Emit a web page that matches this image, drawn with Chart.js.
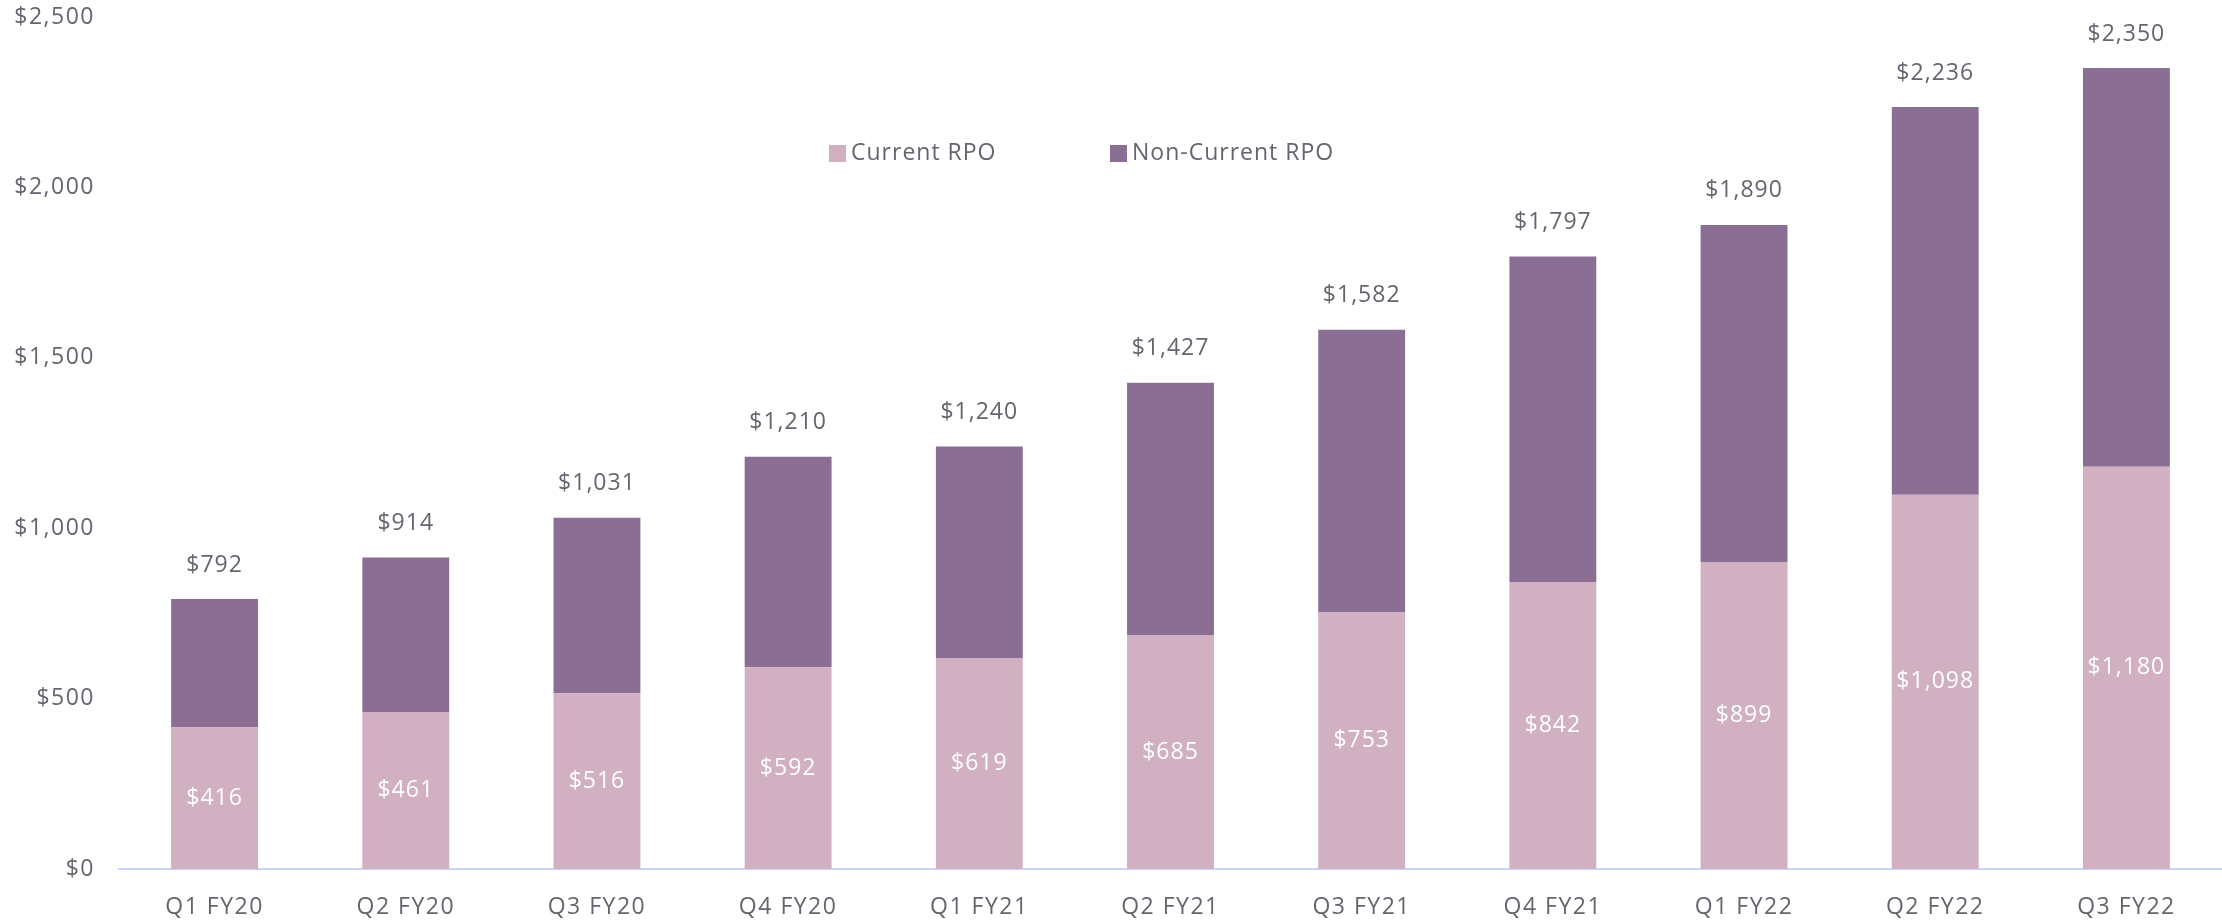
<!DOCTYPE html>
<html>
<head>
<meta charset="utf-8">
<script src="https://cdn.jsdelivr.net/npm/chart.js@4"></script>
<style>
  html, body { margin: 0; padding: 0; background: #ffffff; }
  #wrap { width: 2222px; height: 921px; position: relative; }
</style>
</head>
<body>
<div id="wrap"><canvas id="c"></canvas></div>
<script>
const categories = ['Q1 FY20','Q2 FY20','Q3 FY20','Q4 FY20','Q1 FY21','Q2 FY21','Q3 FY21','Q4 FY21','Q1 FY22','Q2 FY22','Q3 FY22'];
const currentRPO = [416, 461, 516, 592, 619, 685, 753, 842, 899, 1098, 1180];
const nonCurrentRPO = [376, 453, 515, 618, 621, 742, 829, 955, 991, 1138, 1170];
const totalRPO = [792, 914, 1031, 1210, 1240, 1427, 1582, 1797, 1890, 2236, 2350];
const yTicks = [0, 500, 1000, 1500, 2000, 2500];

const FONT = '"Open Sans", sans-serif';
const TEXT = '#66656f';
const fmt = v => '$' + v.toLocaleString('en-US');

const spacingPlugin = {
  id: 'spacing',
  beforeInit(chart) { chart.ctx.letterSpacing = '1.5px'; },
  beforeDraw(chart) { chart.ctx.letterSpacing = '1.5px'; }
};

const labelsPlugin = {
  id: 'barLabels',
  afterDatasetsDraw(chart) {
    const ctx = chart.ctx;
    ctx.save();
    ctx.letterSpacing = '1px';
    ctx.font = '23px ' + FONT;
    ctx.textAlign = 'center';
    ctx.textBaseline = 'middle';
    const m0 = chart.getDatasetMeta(0);
    const m1 = chart.getDatasetMeta(1);
    m0.data.forEach((bar, i) => {
      ctx.fillStyle = '#ffffff';
      ctx.fillText(fmt(currentRPO[i]), bar.x, (bar.y + bar.base) / 2);
    });
    m1.data.forEach((bar, i) => {
      ctx.fillStyle = TEXT;
      ctx.fillText(fmt(totalRPO[i]), bar.x, bar.y - 34);
    });
    ctx.restore();
  }
};

const legendPlugin = {
  id: 'customLegend',
  afterDraw(chart) {
    const ctx = chart.ctx;
    ctx.save();
    ctx.letterSpacing = '1px';
    ctx.font = '23px ' + FONT;
    ctx.textBaseline = 'middle';
    ctx.textAlign = 'left';
    const items = [{x: 829}, {x: 1110}];
    chart.data.datasets.forEach((ds, i) => {
      const x = items[i].x, y = 153;
      ctx.fillStyle = ds.backgroundColor;
      ctx.fillRect(x, y - 8, 17, 17);
      ctx.fillStyle = TEXT;
      ctx.fillText(ds.label, x + 22, y);
    });
    ctx.restore();
  }
};

new Chart(document.getElementById('c'), {
  type: 'bar',
  data: {
    labels: categories,
    datasets: [
      { label: 'Current RPO', data: currentRPO, backgroundColor: '#d0b0c1', barPercentage: 0.9, categoryPercentage: 0.505 },
      { label: 'Non-Current RPO', data: nonCurrentRPO, backgroundColor: '#8a6e94', barPercentage: 0.9, categoryPercentage: 0.505 }
    ]
  },
  options: {
    responsive: true,
    maintainAspectRatio: false,
    animation: false,
    layout: { padding: { top: 17, right: 0, bottom: 0, left: 0 } },
    plugins: { legend: { display: false }, tooltip: { enabled: false } },
    scales: {
      x: {
        stacked: true,
        grid: { display: false },
        border: { display: true, color: '#c8d6f3', width: 2 },
        ticks: { color: TEXT, font: { family: FONT, size: 23 }, padding: 17, maxRotation: 0 },
        afterFit(s) { s.height = 52; s.paddingRight = 0; s.paddingLeft = 0; }
      },
      y: {
        stacked: true,
        min: 0,
        max: 2500,
        afterBuildTicks(s) { s.ticks = yTicks.map(v => ({ value: v })); },
        grid: { display: false },
        border: { display: false },
        ticks: { color: TEXT, font: { family: FONT, size: 23 }, padding: 16, callback: v => fmt(v) },
        afterFit(s) { s.width = 119; s.paddingTop = 0; s.paddingBottom = 0; }
      }
    }
  },
  plugins: [spacingPlugin, labelsPlugin, legendPlugin]
});
</script>
</body>
</html>
